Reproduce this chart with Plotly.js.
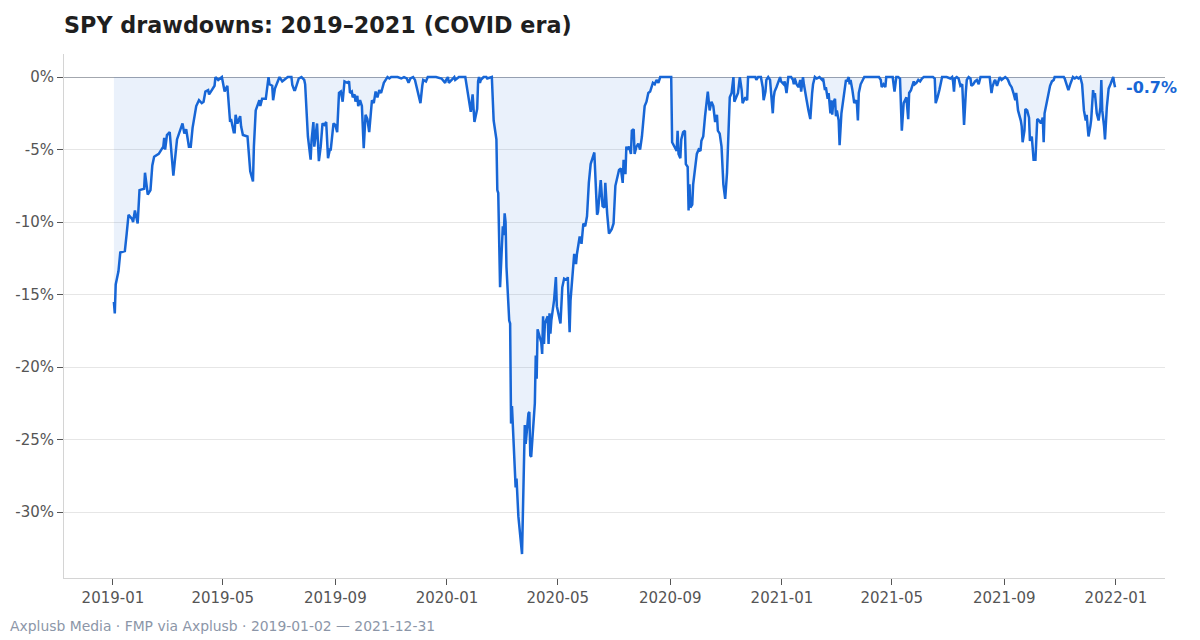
<!DOCTYPE html>
<html>
<head>
<meta charset="utf-8">
<script src="https://cdn.plot.ly/plotly-3.0.1.min.js"></script>
<style>
  html, body { margin: 0; padding: 0; background: #fff; }
  #myDiv { width: 1200px; height: 640px; }
</style>
</head>
<body>
<div id="myDiv"></div>
<script>
// SPY drawdown from running peak (%)
var dates2019 = ['2019-01-02','2019-01-03','2019-01-04','2019-01-07','2019-01-09','2019-01-14','2019-01-16','2019-01-18','2019-01-22','2019-01-23','2019-01-25','2019-01-28','2019-01-30',
  '2019-02-04','2019-02-05','2019-02-08','2019-02-11','2019-02-13','2019-02-15','2019-02-20','2019-02-25','2019-02-26','2019-02-27',
  '2019-03-01','2019-03-04','2019-03-08','2019-03-12','2019-03-15','2019-03-18','2019-03-20','2019-03-22','2019-03-25','2019-03-27','2019-03-29',
  '2019-04-02','2019-04-05','2019-04-08','2019-04-10','2019-04-12','2019-04-15','2019-04-16','2019-04-18','2019-04-22','2019-04-23','2019-04-26','2019-04-30',
  '2019-05-02','2019-05-03','2019-05-06','2019-05-07','2019-05-09','2019-05-10','2019-05-13','2019-05-14','2019-05-15','2019-05-17','2019-05-20','2019-05-21','2019-05-23','2019-05-28','2019-05-29','2019-05-31',
  '2019-06-03','2019-06-04','2019-06-06','2019-06-10','2019-06-11','2019-06-13','2019-06-17','2019-06-20','2019-06-21','2019-06-24','2019-06-25','2019-06-27',
  '2019-07-02','2019-07-05','2019-07-11','2019-07-15','2019-07-16','2019-07-18','2019-07-19','2019-07-23','2019-07-26','2019-07-29','2019-07-30','2019-07-31',
  '2019-08-02','2019-08-05','2019-08-06','2019-08-08','2019-08-09','2019-08-12','2019-08-14','2019-08-16','2019-08-18','2019-08-20','2019-08-22','2019-08-24','2019-08-26','2019-08-27','2019-08-30',
  '2019-09-01','2019-09-03','2019-09-05','2019-09-07','2019-09-09','2019-09-11','2019-09-14','2019-09-16','2019-09-17','2019-09-19','2019-09-20','2019-09-22','2019-09-23','2019-09-25','2019-09-26','2019-09-28','2019-09-30',
  '2019-10-02','2019-10-04','2019-10-06','2019-10-08','2019-10-10','2019-10-11','2019-10-13','2019-10-15','2019-10-17','2019-10-19','2019-10-21','2019-10-23','2019-10-24','2019-10-26','2019-10-28','2019-10-30',
  '2019-11-01','2019-11-05','2019-11-08','2019-11-12','2019-11-15','2019-11-18','2019-11-20','2019-11-22','2019-11-25','2019-11-27','2019-11-30',
  '2019-12-03','2019-12-05','2019-12-06','2019-12-09','2019-12-11','2019-12-16','2019-12-20','2019-12-26','2019-12-30','2019-12-31'];
var dd2019 = [-15.5,-16.3,-14.3,-13.4,-12.1,-12.0,-10.8,-9.5,-9.8,-10.0,-9.2,-10.1,-7.8,
  -7.7,-6.6,-8.1,-7.8,-6.1,-5.5,-5.3,-4.8,-4.2,-5.0,
  -4.0,-3.8,-6.8,-4.3,-3.8,-3.2,-3.9,-3.6,-4.8,-4.8,-3.5,
  -2.0,-1.6,-1.8,-1.7,-1.0,-0.9,-1.2,-1.0,-0.6,0,-0.2,0,
  -0.7,-1.0,-0.6,-1.6,-3.1,-2.9,-3.8,-3.8,-2.6,-3.2,-2.7,-3.4,-4.0,-4.1,-4.9,-6.5,
  -7.2,-4.8,-2.3,-1.6,-2.0,-1.5,-1.5,0,-0.5,-0.6,-1.6,-0.8,
  0,-0.3,0,0,-0.55,-0.9,-0.9,-0.1,0,-0.2,-0.5,-1.8,
  -4.1,-5.7,-4.4,-3.1,-4.8,-3.2,-5.8,-4.8,-3.2,-3.3,-3.1,-5.6,-5.0,-5.0,-3.2,
  -3.3,-3.8,-1.1,-1.0,-1.7,-0.3,-0.4,-0.3,-1.1,-1.0,-1.4,-1.2,-1.7,-1.3,-2.0,-1.6,-2.0,
  -4.9,-2.6,-2.9,-3.8,-1.9,-1.6,-1.8,-1.0,-1.4,-0.9,-1.1,-0.6,-0.4,-0.2,0,-0.1,
  0,0,0,-0.1,0,-0.1,-0.4,-0.1,0,-0.2,-0.9,
  -1.8,-0.6,-0.2,-0.3,0,0,0,-0.1,-0.4,-0.2];

var dates2020 = ['2020-01-02','2020-01-03','2020-01-06','2020-01-09','2020-01-10','2020-01-14','2020-01-21','2020-01-24','2020-01-27','2020-01-29','2020-01-31',
  '2020-02-03','2020-02-04','2020-02-05','2020-02-06','2020-02-07','2020-02-10','2020-02-13','2020-02-14','2020-02-19','2020-02-20','2020-02-21','2020-02-24','2020-02-25','2020-02-26','2020-02-28',
  '2020-03-02','2020-03-03','2020-03-04','2020-03-05','2020-03-06','2020-03-09','2020-03-10','2020-03-11','2020-03-12','2020-03-13','2020-03-16','2020-03-17','2020-03-19','2020-03-23','2020-03-24','2020-03-26','2020-03-27','2020-03-30','2020-03-31',
  '2020-04-01','2020-04-02','2020-04-06','2020-04-07','2020-04-08','2020-04-09','2020-04-13','2020-04-14','2020-04-15','2020-04-16','2020-04-17','2020-04-20','2020-04-21','2020-04-22','2020-04-23','2020-04-24','2020-04-27','2020-04-29','2020-04-30',
  '2020-05-04','2020-05-05','2020-05-06','2020-05-08','2020-05-11','2020-05-12','2020-05-14','2020-05-15','2020-05-18','2020-05-19','2020-05-21','2020-05-22','2020-05-25','2020-05-27','2020-05-29','2020-05-31',
  '2020-06-02','2020-06-03','2020-06-04','2020-06-06','2020-06-08','2020-06-10','2020-06-13','2020-06-14','2020-06-17','2020-06-19','2020-06-21','2020-06-22','2020-06-24','2020-06-26','2020-06-29',
  '2020-07-01','2020-07-03','2020-07-05','2020-07-07','2020-07-09','2020-07-11','2020-07-12','2020-07-14','2020-07-15','2020-07-16','2020-07-18','2020-07-20','2020-07-21','2020-07-23','2020-07-24','2020-07-26','2020-07-28','2020-07-30',
  '2020-08-01','2020-08-03','2020-08-04','2020-08-06','2020-08-08','2020-08-10','2020-08-12','2020-08-13','2020-08-15','2020-08-17','2020-08-19','2020-08-21','2020-08-24','2020-08-28','2020-08-31',
  '2020-09-02','2020-09-03','2020-09-06','2020-09-08','2020-09-09','2020-09-10','2020-09-12','2020-09-13','2020-09-15','2020-09-17','2020-09-18','2020-09-20','2020-09-21','2020-09-22','2020-09-23','2020-09-25','2020-09-26','2020-09-28','2020-09-30',
  '2020-10-02','2020-10-04','2020-10-05','2020-10-07','2020-10-09','2020-10-11','2020-10-12','2020-10-14','2020-10-16','2020-10-18','2020-10-20','2020-10-22','2020-10-23','2020-10-25','2020-10-27','2020-10-29','2020-10-31',
  '2020-11-02','2020-11-03','2020-11-05','2020-11-07','2020-11-09','2020-11-10','2020-11-12','2020-11-14','2020-11-16','2020-11-18','2020-11-19','2020-11-22','2020-11-24','2020-11-25','2020-11-29',
  '2020-12-03','2020-12-04','2020-12-06','2020-12-09','2020-12-11','2020-12-12','2020-12-14','2020-12-15','2020-12-17','2020-12-19','2020-12-21','2020-12-22','2020-12-23','2020-12-24','2020-12-26','2020-12-28','2020-12-30','2020-12-31'];
var dd2020 = [0,-0.4,-0.2,0,-0.2,0,0,-1.1,-2.4,-1.2,-3.1,
  -2.2,-0.3,0,-0.4,-0.2,0,0,-0.1,0,-1.6,-3.0,-4.3,-7.8,-8.0,-14.5,
  -10.3,-10.9,-9.4,-10.0,-13.1,-16.8,-17.0,-23.9,-22.7,-24.1,-28.3,-27.7,-30.3,-32.9,-29.2,-24.0,-25.3,-23.2,-23.1,
  -26.1,-26.2,-22.5,-19.2,-20.8,-17.4,-18.3,-19.1,-16.5,-18.4,-17.0,-16.5,-18.4,-16.3,-17.7,-16.8,-15.4,-13.8,-15.8,
  -17.0,-14.9,-14.5,-13.9,-14.0,-13.8,-17.6,-15.4,-13.2,-12.2,-12.9,-12.2,-11.0,-11.5,-10.1,-10.3,
  -9.6,-8.5,-7.3,-6.0,-5.6,-5.2,-9.5,-9.3,-7.1,-8.9,-9.0,-7.3,-9.4,-10.8,-10.5,
  -10.1,-7.5,-7.0,-6.4,-6.3,-7.3,-5.7,-6.7,-4.8,-5.0,-4.8,-5.3,-3.7,-3.6,-5.3,-4.8,-4.6,-5.0,
  -4.1,-3.0,-2.0,-1.7,-1.1,-1.0,-0.6,-0.4,-0.5,-0.2,-0.4,0,0,0,0,
  0,-4.5,-4.9,-5.1,-3.7,-5.3,-5.6,-4.3,-3.8,-3.7,-6.0,-6.2,-9.2,-7.4,-9.0,-8.8,-7.4,-6.2,-5.3,
  -5.0,-5.1,-4.4,-4.1,-2.7,-1.6,-1.0,-2.3,-1.7,-2.0,-3.1,-2.6,-3.7,-3.9,-4.8,-7.4,-8.4,
  -6.6,-4.5,-1.4,-1.1,0,-1.7,-1.4,-1.1,0,-0.9,-1.8,-1.4,-1.6,0,0,
  0,-0.2,0,0,-0.7,-1.6,-1.0,-0.2,0,-0.2,-1.6,-2.5,-1.4,-1.0,-0.7,-0.3,0,-0.3];

var dates2021 = ['2021-01-03','2021-01-04','2021-01-06','2021-01-08','2021-01-11','2021-01-13','2021-01-14','2021-01-15','2021-01-17','2021-01-19','2021-01-21','2021-01-22','2021-01-24','2021-01-25','2021-01-27','2021-01-28','2021-01-30',
  '2021-02-01','2021-02-03','2021-02-04','2021-02-06','2021-02-08','2021-02-11','2021-02-14','2021-02-15','2021-02-17','2021-02-18','2021-02-20','2021-02-21','2021-02-23','2021-02-24','2021-02-25','2021-02-26','2021-02-28',
  '2021-03-01','2021-03-02','2021-03-04','2021-03-05','2021-03-07','2021-03-09','2021-03-11','2021-03-12','2021-03-13','2021-03-15','2021-03-16','2021-03-17','2021-03-19','2021-03-20','2021-03-21','2021-03-23','2021-03-24','2021-03-25','2021-03-26','2021-03-28','2021-03-30',
  '2021-04-01','2021-04-04','2021-04-07','2021-04-11','2021-04-15','2021-04-17','2021-04-19','2021-04-20','2021-04-22','2021-04-24','2021-04-25','2021-04-27','2021-04-30',
  '2021-05-02','2021-05-03','2021-05-04','2021-05-06','2021-05-08','2021-05-10','2021-05-12','2021-05-14','2021-05-16','2021-05-17','2021-05-19','2021-05-20','2021-05-22','2021-05-23','2021-05-25','2021-05-26','2021-05-28','2021-05-30',
  '2021-06-01','2021-06-03','2021-06-05','2021-06-08','2021-06-12','2021-06-15','2021-06-17','2021-06-18','2021-06-20','2021-06-21','2021-06-22','2021-06-24','2021-06-25','2021-06-27','2021-06-30',
  '2021-07-04','2021-07-06','2021-07-07','2021-07-08','2021-07-09','2021-07-11','2021-07-13','2021-07-15','2021-07-17','2021-07-18','2021-07-19','2021-07-21','2021-07-22','2021-07-24','2021-07-26','2021-07-27','2021-07-29','2021-07-31',
  '2021-08-02','2021-08-04','2021-08-06','2021-08-09','2021-08-13','2021-08-16','2021-08-18','2021-08-19','2021-08-21','2021-08-22','2021-08-24','2021-08-26','2021-08-27','2021-08-29','2021-08-31',
  '2021-09-02','2021-09-04','2021-09-05','2021-09-07','2021-09-09','2021-09-11','2021-09-13','2021-09-14','2021-09-15','2021-09-16','2021-09-19','2021-09-20','2021-09-21','2021-09-23','2021-09-24','2021-09-26','2021-09-28','2021-09-29',
  '2021-10-01','2021-10-03','2021-10-05','2021-10-06','2021-10-07','2021-10-09','2021-10-11','2021-10-13','2021-10-14','2021-10-15','2021-10-17','2021-10-19','2021-10-21','2021-10-23','2021-10-25','2021-10-26','2021-10-30',
  '2021-11-03','2021-11-05','2021-11-06','2021-11-08','2021-11-10','2021-11-12','2021-11-14','2021-11-15','2021-11-17','2021-11-19','2021-11-21','2021-11-23','2021-11-25','2021-11-26','2021-11-27','2021-11-29','2021-11-30',
  '2021-12-01','2021-12-02','2021-12-04','2021-12-05','2021-12-07','2021-12-08','2021-12-09','2021-12-11','2021-12-13','2021-12-15','2021-12-16','2021-12-17','2021-12-19','2021-12-20','2021-12-22','2021-12-24','2021-12-26','2021-12-28','2021-12-29','2021-12-30','2021-12-31'];
var dd2021 = [-0.5,-0.3,-1.1,0,0,-0.2,-0.5,-0.1,-0.5,-0.7,-0.2,-1.0,0,-0.5,-1.1,-1.6,-2.3,
  -2.9,-1.1,-0.5,0,-0.1,0,-0.2,-0.1,-0.9,-0.7,-1.5,-1.1,-2.5,-1.6,-2.6,-1.8,-1.5,
  -2.7,-2.3,-3.0,-4.7,-2.5,-1.4,-0.5,-0.2,-0.3,0,-0.5,-0.2,-0.9,-1.6,-1.8,-1.6,-1.9,-3.0,-1.1,-0.5,-0.2,
  0,0,0,0,0,0,-0.2,-0.7,-0.5,-0.7,0,0,0,
  0,-0.5,-1.0,0,0,-0.1,-3.7,-1.8,-1.5,-1.4,-2.9,-1.1,-0.9,-0.7,-0.3,-0.5,-0.4,-0.2,
  -0.3,-0.1,0,0,0,0,-0.1,-1.8,-1.4,-1.0,-0.9,-0.3,0,0,0,
  -0.1,0,-0.3,-1.0,-0.1,0,-0.1,-0.6,-0.5,-1.8,-3.3,-1.0,-0.2,0,-0.1,-0.6,-0.5,-0.3,
  -0.2,-0.5,0,0,0,0,-1.1,-0.7,-0.3,-0.2,-0.6,-0.1,0,-0.2,-0.1,
  0,-0.1,-0.2,-0.5,-0.7,-1.1,-1.6,-1.1,-1.7,-2.3,-3.0,-3.4,-4.5,-3.7,-2.2,-2.3,-2.8,-4.4,
  -4.1,-5.7,-5.7,-4.6,-2.9,-3.0,-3.2,-2.8,-4.5,-2.5,-1.8,-1.3,-0.6,-0.3,-0.2,0,0,
  0,0,-0.1,-0.5,-0.9,-0.5,-0.2,0,-0.1,0,-0.1,0,-0.5,-1.5,-2.3,-3.0,-2.6,
  -3.4,-4.1,-3.4,-2.9,-0.9,-1.4,-1.1,-2.5,-3.0,-2.1,-0.2,-2.3,-3.4,-4.3,-2.1,-0.8,-0.5,-0.1,0,-0.4,-0.7];

var yTicks = [0, -5, -10, -15, -20, -25, -30];
var yTickText = ['0%', '-5%', '-10%', '-15%', '-20%', '-25%', '-30%'];

var dates = dates2019.concat(dates2020, dates2021);
var dd = dd2019.concat(dd2020, dd2021);

var lineBlue = '#1766d6';
var lastDate = dates[dates.length - 1];
var lastVal = dd[dd.length - 1];

var data = [{
  x: dates, y: dd, type: 'scatter', mode: 'lines',
  fill: 'tozeroy', fillcolor: 'rgba(25,103,214,0.09)',
  line: { color: lineBlue, width: 2.5 },
  hoverinfo: 'x+y'
}];

var layout = {
  width: 1200, height: 640,
  margin: { l: 64, r: 35, t: 54, b: 62 },
  paper_bgcolor: '#fff', plot_bgcolor: '#fff',
  font: { family: 'DejaVu Sans, sans-serif', color: '#555', size: 15 },
  showlegend: false,
  title: {
    text: 'SPY drawdowns: 2019–2021 (COVID era)',
    font: { family: 'DejaVu Sans, sans-serif', size: 22.3, color: '#1f1f1f', weight: 'bold' },
    xref: 'paper', x: 0, xanchor: 'left',
    yref: 'container', y: 0.961, yanchor: 'middle'
  },
  xaxis: {
    type: 'date',
    range: ['2018-11-08 12:00', '2022-02-23 14:00'],
    tick0: '2019-01-01', dtick: 'M4', tickformat: '%Y-%m',
    showgrid: false, zeroline: false,
    showline: true, linecolor: '#d4d4d4', linewidth: 1,
    ticks: 'outside', ticklen: 6, tickcolor: '#555',
    tickfont: { size: 15, color: '#555' }
  },
  yaxis: {
    range: [-34.55, 1.59],
    tickmode: 'array', tickvals: yTicks, ticktext: yTickText,
    showgrid: true, gridcolor: '#e6e6e6', gridwidth: 1,
    zeroline: true, zerolinecolor: '#a3a7ae', zerolinewidth: 1,
    showline: true, linecolor: '#d4d4d4', linewidth: 1,
    ticks: 'outside', ticklen: 6, tickcolor: '#555',
    tickfont: { size: 15, color: '#555' }
  },
  annotations: [
    {
      x: lastDate, y: lastVal, xref: 'x', yref: 'y',
      text: lastVal.toFixed(1) + '%', showarrow: false,
      xanchor: 'left', yanchor: 'middle', xshift: 9,
      font: { size: 16, color: lineBlue, weight: 'bold' }
    },
    {
      xref: 'paper', yref: 'paper', x: -0.0508, y: -0.0916,
      xanchor: 'left', yanchor: 'middle', showarrow: false,
      text: 'Axplusb Media · FMP via Axplusb · 2019-01-02 — 2021-12-31',
      font: { size: 13.9, color: '#8c96a8' }
    }
  ]
};

Plotly.newPlot('myDiv', data, layout, { displayModeBar: false, staticPlot: true });
</script>
</body>
</html>
